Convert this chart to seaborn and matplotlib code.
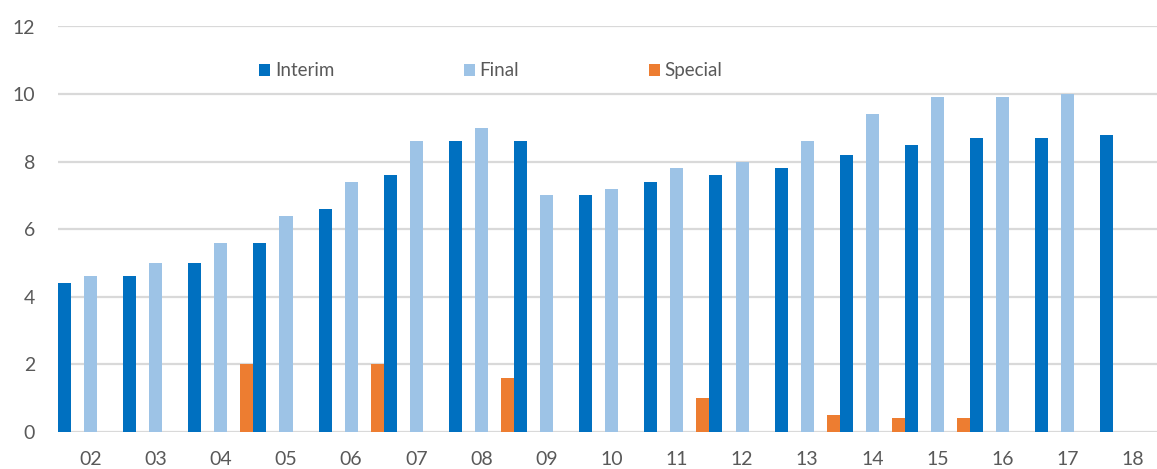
import matplotlib
matplotlib.use("Agg")
import matplotlib.pyplot as plt
from matplotlib.patches import Patch
import seaborn as sns
import pandas as pd

# ---- data ----
years = list(range(2, 19))
year_labels = [f"{y:02d}" for y in years]
interim = [4.4, 4.6, 5.0, 5.6, 6.6, 7.6, 8.6, 8.6, 7.0, 7.4, 7.6, 7.8, 8.2, 8.5, 8.7, 8.7, 8.8]
final_years = list(range(2, 18))
final = [4.6, 5.0, 5.6, 6.4, 7.4, 8.6, 9.0, 7.0, 7.2, 7.8, 8.0, 8.6, 9.4, 9.9, 9.9, 10.0]
special_years = [4, 6, 8, 11, 13, 14, 15]
special = [2.0, 2.0, 1.6, 1.0, 0.5, 0.4, 0.4]
series_names = ["Interim", "Final", "Special"]
colors = ["#0070C0", "#9DC3E6", "#ED7D31"]

# ---- build long table ----
slot_offset = {"Interim": -2, "Final": 0, "Special": 2}
SLOTS = 5
rows = []
for y, v in zip(years, interim):
    rows.append(("Interim", y, v))
for y, v in zip(final_years, final):
    rows.append(("Final", y, v))
for y, v in zip(special_years, special):
    rows.append(("Special", y, v))
df = pd.DataFrame(rows, columns=["series", "year", "value"])
df["pos"] = df["year"] * SLOTS + df["series"].map(slot_offset)

sns.set_theme(style="white")
plt.rcParams["font.family"] = ["Lato", "DejaVu Sans"]

fig = plt.figure(figsize=(11.57, 4.69), dpi=100)
ax = fig.add_axes([58 / 1157, (469 - 431.7) / 469, 1 - 58 / 1157, (431.7 - 26.5) / 469])

sns.barplot(data=df, x="pos", y="value", hue="series", hue_order=series_names,
            palette=colors, saturation=1, native_scale=True, dodge=False, width=1.0,
            errorbar=None, linewidth=0, legend=False, ax=ax, zorder=3)

ax.set_xlim(years[0] * SLOTS - 2.5, years[-1] * SLOTS + 0.37 * SLOTS)
ax.set_ylim(0, 12)
ax.set_xticks([y * SLOTS for y in years])
ax.set_xticklabels(year_labels)
ax.set_yticks(range(0, 13, 2))
ax.set_yticklabels([str(v) for v in range(0, 13, 2)])
ax.set_xlabel("")
ax.set_ylabel("")

for s in ax.spines.values():
    s.set_visible(False)
ax.yaxis.grid(True, color="#D9D9D9", linewidth=1.6, zorder=0)
ax.xaxis.grid(False)
ax.set_axisbelow(True)
ax.tick_params(axis="both", length=0, colors="#595959", labelsize=14)
ax.tick_params(axis="y", pad=16.5)
ax.tick_params(axis="x", pad=14)

handles = [Patch(facecolor=c, edgecolor="none", label=n) for n, c in zip(series_names, colors)]
fig.legend(handles=handles, loc="center left", bbox_to_anchor=(259 / 1157, (469 - 70.7) / 469),
           ncol=3, frameon=False, fontsize=13.5, handlelength=0.6, handleheight=0.6,
           handletextpad=0.25, columnspacing=6.9, borderpad=0, borderaxespad=0,
           labelcolor="#595959")

fig.savefig("out.png", dpi=100)
